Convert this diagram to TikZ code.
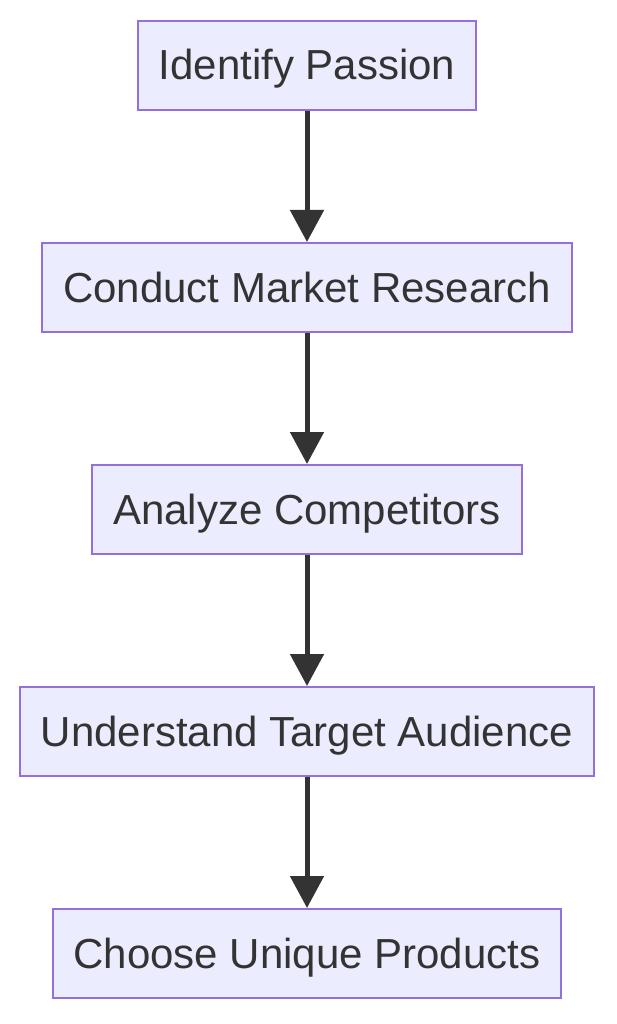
\documentclass[tikz,border=0pt]{standalone}
\usepackage{fontspec}
\setmainfont{Liberation Sans}
\usepackage{xcolor}
\usetikzlibrary{arrows.meta, positioning}
\definecolor{boxfill}{HTML}{ECECFF}
\definecolor{boxline}{HTML}{9370DB}
\definecolor{ink}{HTML}{333333}

\begin{document}
\begin{tikzpicture}[
    stepbox/.style={draw=boxline, fill=boxfill, line width=2pt, text=ink,
        font=\fontsize{42}{50}\selectfont, minimum height=89pt, inner xsep=21pt,
        text height=30pt, text depth=1pt},
    flow/.style={draw=ink, line width=5pt, -{Triangle[length=32pt, width=33pt]}},
    node distance=131pt
]
\useasboundingbox (0,0) rectangle (617pt,-1024pt);
% Schritte
\node[stepbox] (passion) at (307pt,-65.5pt) {Identify Passion};
\node[stepbox, below=of passion] (research) {Conduct Market Research};
\node[stepbox, below=of research] (competitors) {Analyze Competitors};
\node[stepbox, below=of competitors] (audience) {Understand Target Audience};
\node[stepbox, below=of audience] (products) {Choose Unique Products};

% Pfeile
\draw[flow] (passion) -- (research);
\draw[flow] (research) -- (competitors);
\draw[flow] (competitors) -- (audience);
\draw[flow] (audience) -- (products);
\end{tikzpicture}
\end{document}
